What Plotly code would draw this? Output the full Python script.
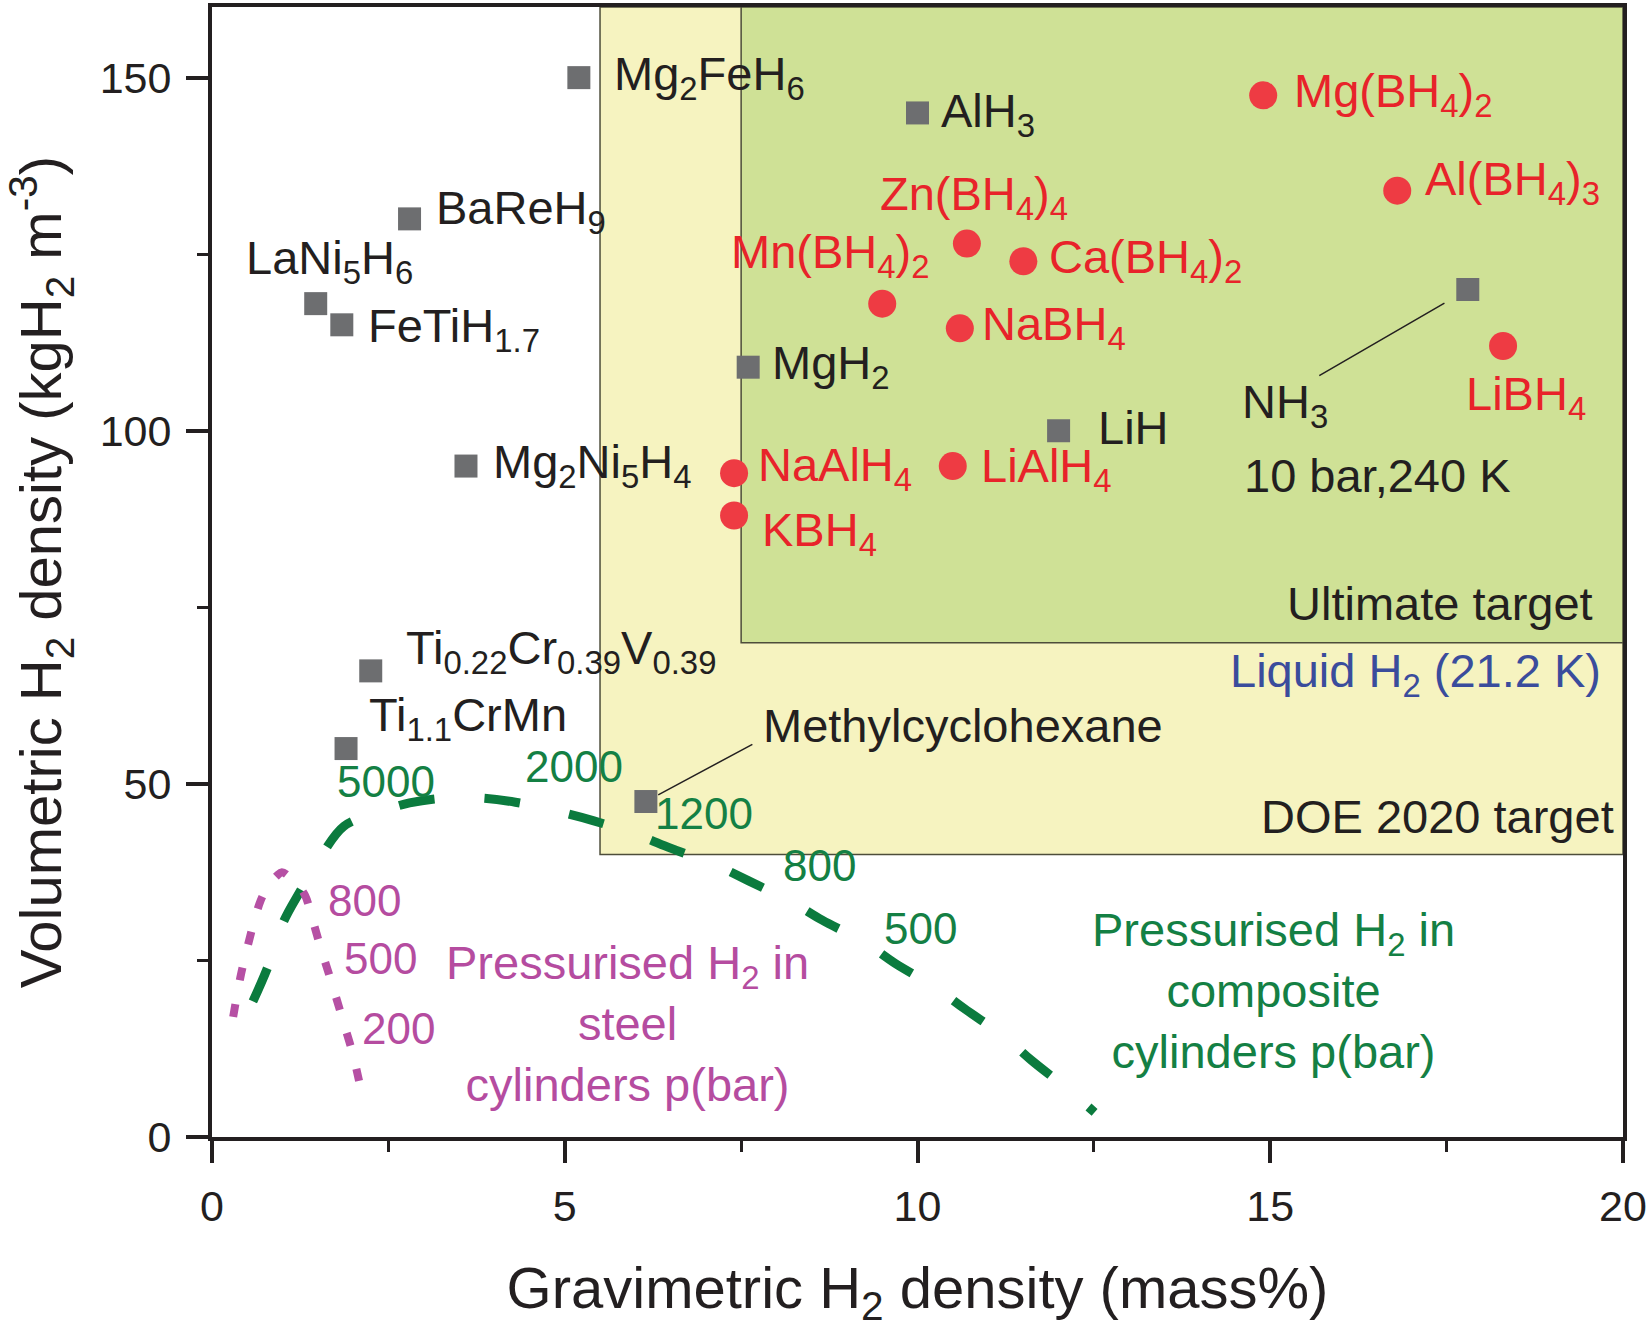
import plotly.graph_objects as go

# ---------------- data ----------------
hydride_names = ["Mg<sub>2</sub>FeH<sub>6</sub>", "AlH<sub>3</sub>", "BaReH<sub>9</sub>",
                 "LaNi<sub>5</sub>H<sub>6</sub>", "FeTiH<sub>1.7</sub>", "MgH<sub>2</sub>",
                 "Mg<sub>2</sub>Ni<sub>5</sub>H<sub>4</sub>", "LiH", "NH<sub>3</sub>",
                 "Ti<sub>0.22</sub>Cr<sub>0.39</sub>V<sub>0.39</sub>", "Ti<sub>1.1</sub>CrMn",
                 "Methylcyclohexane"]
hydride_x = [5.2, 10.0, 2.8, 1.47, 1.84, 7.6, 3.6, 12.0, 17.8, 2.25, 1.9, 6.15]
hydride_y = [150, 145, 130, 118, 115, 109, 95, 100, 120, 66, 55, 47.5]

boro_names = ["Mg(BH<sub>4</sub>)<sub>2</sub>", "Al(BH<sub>4</sub>)<sub>3</sub>",
              "Zn(BH<sub>4</sub>)<sub>4</sub>", "Ca(BH<sub>4</sub>)<sub>2</sub>",
              "Mn(BH<sub>4</sub>)<sub>2</sub>", "NaBH<sub>4</sub>", "LiBH<sub>4</sub>",
              "NaAlH<sub>4</sub>", "LiAlH<sub>4</sub>", "KBH<sub>4</sub>"]
boro_x = [14.9, 16.8, 10.7, 11.5, 9.5, 10.6, 18.3, 7.4, 10.5, 7.4]
boro_y = [147.5, 134, 126.5, 124, 118, 114.5, 112, 94, 95, 88]

# storage targets: (gravimetric mass%, volumetric kg/m3)
target_names = ["DOE 2020 target", "Ultimate target"]
target_x = [5.5, 7.5]
target_y = [40, 70]

# pressurised H2 in composite cylinders
composite_x = [0.58, 0.80, 1.01, 1.25, 1.56, 1.87, 2.3, 2.8, 3.3, 3.8, 4.3, 4.9, 5.4, 6.05,
               6.5, 7.16, 7.6, 8.23, 8.65, 9.26, 9.68, 10.25, 10.66, 11.22, 11.61, 12.1, 12.51]
composite_y = [19.2, 24.3, 30.4, 34.8, 40.0, 44.0, 45.8, 47.3, 48.0, 48.0, 47.4, 46.1, 44.8,
               42.7, 40.9, 38.4, 36.3, 33.2, 30.7, 27.5, 24.6, 21.2, 18.2, 14.3, 10.9, 7.0, 3.5]
composite_p_labels = ["5000", "2000", "1200", "800", "500"]

# pressurised H2 in steel cylinders
steel_x = [0.30, 0.40, 0.50, 0.60, 0.69, 0.80, 0.92, 0.99, 1.10, 1.22, 1.32, 1.43, 1.54,
           1.66, 1.77, 1.88, 1.99, 2.07, 2.14]
steel_y = [17.0, 22.5, 26.8, 30.6, 33.5, 35.6, 37.0, 37.5, 36.8, 35.6, 34.2, 30.6, 26.8,
           23.0, 19.4, 15.7, 12.0, 8.6, 5.3]
steel_p_labels = ["800", "500", "200"]

x_ticks = [0, 5, 10, 15, 20]
y_ticks = [0, 50, 100, 150]

# ---------------- styles / label placement (pixels) ----------------
FONT = "Liberation Sans, Arial, sans-serif"
BLACK = "#231F20"
GREY = "#6D6E70"
RED_MK = "#EE3B43"
RED_TX = "#E8232A"
GREEN = "#0B7B3E"
GREEN_TX = "#148044"
MAG = "#B650A4"
MAG_TX = "#B54CA0"
BLUE = "#3A4C9C"
LBL = 47

hydride_shift = [(33, 0), (21, -2), (24, 7), (-72, 42), (24, -5), (22, 0), (25, 0), (37, 2),
                 (-228, -116), (33, 19), (21, 30), (115, 75)]
boro_shift = [(29, 0), (26, 8), (-89, 46), (24, 0), (-153, 48), (20, 0), (-39, -52), (22, 4),
              (26, -4), (26, -18)]
SUB_FIX = 1  # compensates the extra height of subscripts in annotation boxes

fig = go.Figure()

# target boxes
fills = ["#F6F3C0", "#CFE196"]
for tx, ty, fc in zip(target_x, target_y, fills):
    fig.add_shape(type="rect", xref="x", yref="y", x0=tx, x1=20, y0=ty, y1=160,
                  fillcolor=fc, line=dict(color="#4D4D3A", width=1.5), layer="below")

# cylinder curves
fig.add_trace(go.Scatter(x=composite_x, y=composite_y, mode="lines", line_shape="spline",
                         line=dict(color=GREEN, width=9, dash="36px,50px"),
                         hoverinfo="skip", showlegend=False))
fig.add_trace(go.Scatter(x=steel_x, y=steel_y, mode="lines", line_shape="spline",
                         line=dict(color=MAG, width=8, dash="13px,24px"),
                         hoverinfo="skip", showlegend=False))

# markers
fig.add_trace(go.Scatter(x=hydride_x, y=hydride_y, mode="markers",
                         marker=dict(symbol="square", size=23, color=GREY),
                         showlegend=False))
fig.add_trace(go.Scatter(x=boro_x, y=boro_y, mode="markers",
                         marker=dict(symbol="circle", size=28, color=RED_MK),
                         showlegend=False))

ann = []
for n, xv, yv, (dx, dy) in zip(hydride_names, hydride_x, hydride_y, hydride_shift):
    ann.append(dict(x=xv, y=yv, text=n, showarrow=False, xanchor="left", yanchor="middle",
                    xshift=dx, yshift=dy + SUB_FIX, font=dict(size=LBL, color=BLACK)))
# NH3 condition line
ann.append(dict(x=hydride_x[8], y=hydride_y[8], text="10 bar,240 K", showarrow=False,
                xanchor="left", yanchor="middle", xshift=-226, yshift=-186,
                font=dict(size=LBL, color=BLACK)))
for n, xv, yv, (dx, dy) in zip(boro_names, boro_x, boro_y, boro_shift):
    ann.append(dict(x=xv, y=yv, text=n, showarrow=False, xanchor="left", yanchor="middle",
                    xshift=dx, yshift=dy + SUB_FIX, font=dict(size=LBL, color=RED_TX)))

# leader lines
ann.append(dict(x=hydride_x[8], y=hydride_y[8], text="", showarrow=True, arrowhead=0,
                arrowwidth=1.5, arrowcolor=BLACK, ax=-150, ay=87, standoff=27,
                font=dict(size=1)))
ann.append(dict(x=hydride_x[11], y=hydride_y[11], text="", showarrow=True, arrowhead=0,
                arrowwidth=1.5, arrowcolor=BLACK, ax=108, ay=-58, standoff=14,
                font=dict(size=1)))

# target labels
ann.append(dict(x=19.6, y=75.6, text=target_names[1], showarrow=False, xanchor="right",
                yanchor="middle", font=dict(size=LBL, color=BLACK)))
ann.append(dict(x=19.9, y=45.4, text=target_names[0], showarrow=False, xanchor="right",
                yanchor="middle", font=dict(size=LBL, color=BLACK)))
ann.append(dict(x=19.72, y=65.4, text="Liquid H<sub>2</sub> (21.2 K)", showarrow=False,
                xanchor="right", yanchor="middle", yshift=SUB_FIX,
                font=dict(size=LBL, color=BLUE)))

# pressure labels
comp_lbl_pos = [(1.74, 50.4), (4.41, 52.5), (6.25, 45.8), (8.07, 38.4), (9.5, 29.5)]
for t, (xv, yv) in zip(composite_p_labels, comp_lbl_pos):
    ann.append(dict(x=xv, y=yv, text=t, showarrow=False, xanchor="left", yanchor="middle",
                    font=dict(size=44, color=GREEN_TX)))
steel_lbl_pos = [(1.62, 33.5), (1.84, 25.3), (2.1, 15.4)]
for t, (xv, yv) in zip(steel_p_labels, steel_lbl_pos):
    ann.append(dict(x=xv, y=yv, text=t, showarrow=False, xanchor="left", yanchor="middle",
                    font=dict(size=44, color=MAG_TX)))

ann.append(dict(x=15.05, y=20.8, text="Pressurised H<sub>2</sub> in<br>composite<br>cylinders p(bar)",
                showarrow=False, xanchor="center", yanchor="middle", align="center",
                font=dict(size=LBL, color=GREEN_TX)))
ann.append(dict(x=5.89, y=16.1, text="Pressurised H<sub>2</sub> in<br>steel<br>cylinders p(bar)",
                showarrow=False, xanchor="center", yanchor="middle", align="center",
                font=dict(size=LBL, color=MAG_TX)))

axis_common = dict(showline=True, linecolor=BLACK, linewidth=4, mirror=True,
                   ticks="outside", ticklen=22, tickwidth=3.5, tickcolor=BLACK,
                   showgrid=False, zeroline=False, ticklabelstandoff=6,
                   tickfont=dict(size=43, color=BLACK, family=FONT))

fig.update_layout(
    width=1650, height=1332,
    margin=dict(l=212, r=27, t=3, b=195),
    paper_bgcolor="white", plot_bgcolor="white",
    font=dict(family=FONT, color=BLACK),
    annotations=ann,
    xaxis=dict(range=[0, 20], tickvals=x_ticks,
               minor=dict(ticks="outside", ticklen=11, tickwidth=3, tickcolor=BLACK, dtick=2.5,
                          showgrid=False),
               title=dict(text="Gravimetric H<sub>2</sub> density (mass%)",
                          font=dict(size=58, color=BLACK), standoff=40),
               **axis_common),
    yaxis=dict(range=[0, 160], tickvals=y_ticks,
               minor=dict(ticks="outside", ticklen=11, tickwidth=3, tickcolor=BLACK, dtick=25,
                          showgrid=False),
               title=dict(text="Volumetric H<sub>2</sub> density (kgH<sub>2</sub> m<sup>-3</sup>)",
                          font=dict(size=58, color=BLACK), standoff=24),
               **axis_common),
)

fig.write_html("out.html", config={"displayModeBar": False},
               post_script="document.body.style.margin='0';")
